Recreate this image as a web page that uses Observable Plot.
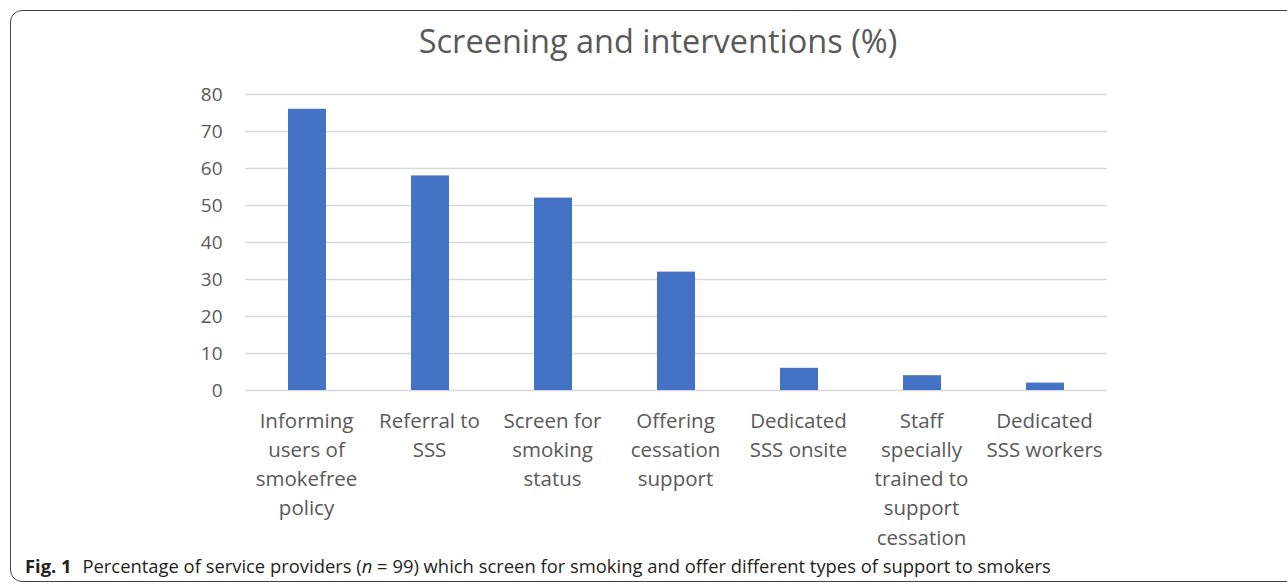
<!DOCTYPE html>
<html>
<head>
<meta charset="utf-8">
<script src="https://cdn.jsdelivr.net/npm/d3@7"></script>
<script src="https://cdn.jsdelivr.net/npm/@observablehq/plot@0.6"></script>
<style>
  html, body { margin: 0; padding: 0; background: #fff; width: 1287px; height: 585px; overflow: hidden; }
  #frame { position: absolute; left: 10px; top: 10px; width: 1300px; height: 572px; border: 1.5px solid #444; border-radius: 12px; box-sizing: border-box; }
  #title { position: absolute; left: 0; top: 18px; width: 1316px; text-align: center; font-family: "Open Sans", sans-serif; font-size: 32.5px; color: #595959; }
  #chart { position: absolute; left: 0; top: 0; }
  #caption { position: absolute; left: 25px; top: 553px; font-family: "Open Sans", sans-serif; font-size: 18.4px; color: #231f20; white-space: nowrap; }
  #caption b { font-weight: 700; margin-right: 6px; }
</style>
</head>
<body>
<div id="frame"></div>
<div id="title">Screening and interventions (%)</div>
<div id="chart"></div>
<div id="caption"><b>Fig. 1</b> Percentage of service providers (<i>n</i> = 99) which screen for smoking and offer different types of support to smokers</div>
<script>
const categories = [
  "Informing\nusers of\nsmokefree\npolicy",
  "Referral to\nSSS",
  "Screen for\nsmoking\nstatus",
  "Offering\ncessation\nsupport",
  "Dedicated\nSSS onsite",
  "Staff\nspecially\ntrained to\nsupport\ncessation",
  "Dedicated\nSSS workers"
];
const values = [76, 58, 52, 32, 6, 4, 2];
const yTicks = [0, 10, 20, 30, 40, 50, 60, 70, 80];

const data = categories.map((c, i) => ({category: c, value: values[i]}));

const plot = Plot.plot({
  width: 1287,
  height: 560,
  marginTop: 94,
  marginBottom: 170,
  marginLeft: 245,
  marginRight: 180,
  style: { fontFamily: "'Open Sans', sans-serif", color: "#595959", background: "transparent" },
  x: { domain: categories, paddingInner: 0.69, paddingOuter: 0.345, label: null },
  y: { domain: [0, 80], ticks: yTicks, label: null },
  marks: [
    Plot.ruleY(yTicks, { stroke: "#d9d9d9", strokeWidth: 1.5 }),
    Plot.barY(data, { x: "category", y: "value", fill: "#4472C4" }),
    Plot.axisY({ ticks: yTicks, tickSize: 0, tickPadding: 23, fontSize: 19, label: null, fill: "#595959" }),
    Plot.axisX({ tickSize: 0, tickPadding: 17, fontSize: 20.5, lineHeight: 1.42, label: null, fill: "#595959", dx: -1 })
  ]
});
document.getElementById("chart").appendChild(plot);
</script>
</body>
</html>
